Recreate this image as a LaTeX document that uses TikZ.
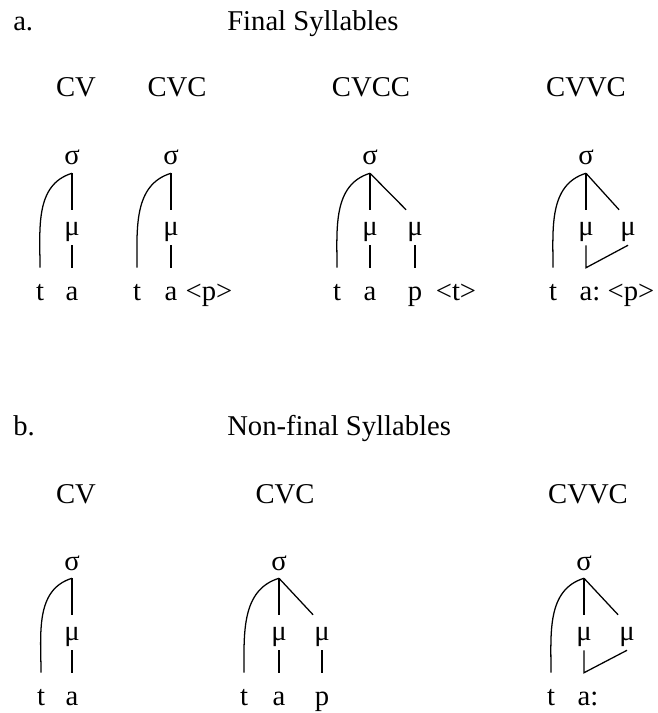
\documentclass[tikz,border=0pt]{standalone}
\usepackage{fontspec}
\setmainfont{Liberation Serif}
\usetikzlibrary{positioning}

\begin{document}
\begin{tikzpicture}[
  x=0.75pt, y=-0.75pt,
  txt/.style={font=\fontsize{21.5}{25}\selectfont, inner sep=0pt, anchor=base},
  syl/.style={txt, text depth=0pt, inner ysep=6pt},
  mora/.style={txt, text height=11.25pt, text depth=0pt, inner ysep=7.5pt, inner xsep=0.75pt},
  seg/.style={txt, text height=16.5pt, text depth=0pt, inner ysep=7.5pt},
  ln/.style={line width=0.95pt},
  arc/.style={ln, out=197, in=90}
]
\useasboundingbox (0,0) rectangle (657,713);

% a. final syllables
\node[txt, anchor=base west] (hdA) at (13,31) {a.};
\node[txt, anchor=base west] (ttlA) at (227,31) {Final Syllables};
\node[txt] (cvA) at (76,97) {CV};
\node[txt] (cvcA) at (177,97) {CVC};
\node[txt] (cvccA) at (371,97) {CVCC};
\node[txt] (cvvcA) at (586,97) {CVVC};

% CV
\node[syl] (sa1) at (72,165) {σ};
\node[mora] (ma1) at (72,235) {μ};
\node[seg] (ta1) at (40,300) {t};
\node[seg] (va1) at (72,300) {a};
\draw[ln] (sa1.south) to[arc] (ta1.north);
\draw[ln] (sa1.south) -- (ma1.north);
\draw[ln] (ma1.south) -- (va1.north);

% CVC
\node[syl] (sa2) at (171,165) {σ};
\node[mora] (ma2) at (171,235) {μ};
\node[seg] (ta2) at (137,300) {t};
\node[seg] (va2) at (171,300) {a};
\node[txt] (xa2) at (209,300) {<p>};
\draw[ln] (sa2.south) to[arc] (ta2.north);
\draw[ln] (sa2.south) -- (ma2.north);
\draw[ln] (ma2.south) -- (va2.north);

% CVCC
\node[syl] (sa3) at (370,165) {σ};
\node[mora] (ma3) at (370,235) {μ};
\node[mora] (mb3) at (415,235) {μ};
\node[seg] (ta3) at (337,300) {t};
\node[seg] (va3) at (370,300) {a};
\node[seg] (ca3) at (415,300) {p};
\node[txt] (xa3) at (456,300) {<t>};
\draw[ln] (sa3.south) to[arc] (ta3.north);
\draw[ln] (sa3.south) -- (ma3.north);
\draw[ln] (sa3.south) -- (mb3.north west);
\draw[ln] (ma3.south) -- (va3.north);
\draw[ln] (mb3.south) -- (ca3.north);

% CVVC
\node[syl] (sa4) at (586,165) {σ};
\node[mora] (ma4) at (586,235) {μ};
\node[mora] (mb4) at (628,235) {μ};
\node[seg] (ta4) at (553,300) {t};
\node[seg] (va4) at (586,300) {a\rlap{:}};
\node[txt] (xa4) at (631,300) {<p>};
\draw[ln] (sa4.south) to[arc] (ta4.north);
\draw[ln] (sa4.south) -- (ma4.north);
\draw[ln] (sa4.south) -- (mb4.north west);
\draw[ln] (ma4.south) -- (va4.north) -- (mb4.south);

% b. non-final syllables
\node[txt, anchor=base west] (hdB) at (13,435) {b.};
\node[txt, anchor=base west] (ttlB) at (227,435) {Non-final Syllables};
\node[txt] (cvB) at (76,503) {CV};
\node[txt] (cvcB) at (285,503) {CVC};
\node[txt] (cvvcB) at (588,503) {CVVC};

% CV
\node[syl] (sb1) at (72,570) {σ};
\node[mora] (mb1) at (72,640) {μ};
\node[seg] (tb1) at (41,705) {t};
\node[seg] (vb1) at (72,705) {a};
\draw[ln] (sb1.south) to[arc] (tb1.north);
\draw[ln] (sb1.south) -- (mb1.north);
\draw[ln] (mb1.south) -- (vb1.north);

% CVC
\node[syl] (sb2) at (279,570) {σ};
\node[mora] (mb2) at (279,640) {μ};
\node[mora] (nb2) at (322,640) {μ};
\node[seg] (tb2) at (244,705) {t};
\node[seg] (vb2) at (279,705) {a};
\node[seg] (cb2) at (322,705) {p};
\draw[ln] (sb2.south) to[arc] (tb2.north);
\draw[ln] (sb2.south) -- (mb2.north);
\draw[ln] (sb2.south) -- (nb2.north west);
\draw[ln] (mb2.south) -- (vb2.north);
\draw[ln] (nb2.south) -- (cb2.north);

% CVVC
\node[syl] (sb3) at (584,570) {σ};
\node[mora] (mb3) at (584,640) {μ};
\node[mora] (nb3) at (627,640) {μ};
\node[seg] (tb3) at (551,705) {t};
\node[seg] (vb3) at (584,705) {a\rlap{:}};
\draw[ln] (sb3.south) to[arc] (tb3.north);
\draw[ln] (sb3.south) -- (mb3.north);
\draw[ln] (sb3.south) -- (nb3.north west);
\draw[ln] (mb3.south) -- (vb3.north) -- (nb3.south);

\end{tikzpicture}
\end{document}
